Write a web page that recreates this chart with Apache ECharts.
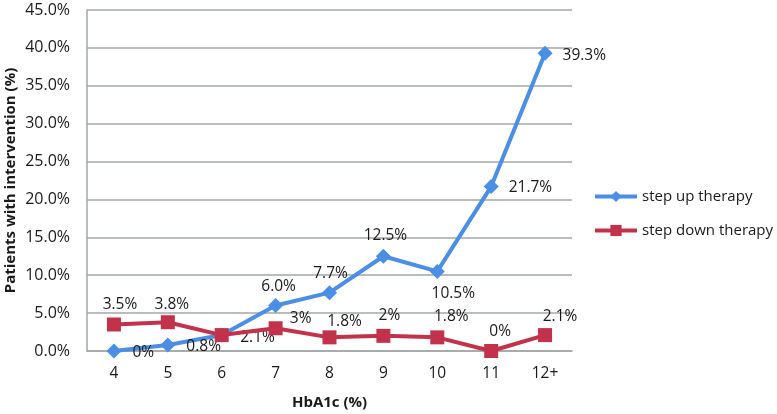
<!DOCTYPE html>
<html><head><meta charset="utf-8">
<script src="https://cdn.jsdelivr.net/npm/echarts@6/dist/echarts.min.js"></script>
<style>html,body{margin:0;padding:0;background:#fff}#c{width:777px;height:414px}</style>
</head><body><div id="c"></div>
<script>
var categories = ['4','5','6','7','8','9','10','11','12+'];
var stepUp = [0, 0.8, 2.1, 6.0, 7.7, 12.5, 10.5, 21.7, 39.3];
var stepDown = [3.5, 3.8, 2.1, 3, 1.8, 2, 1.8, 0, 2.1];
var yTicks = {min: 0, max: 45, interval: 5};

var FONT = 'Open Sans';
var TXT = '#1a1a1a';
var BLUE = '#4a8ee6';
var RED = '#c3324b';
var GRID = '#a3a7a7';
var FS = 15.5;

// label placement (style only)
var upPlace = [['right',[6,2]],['right',[6,2]],['right',[6,2]],['top',[3,2]],['top',[1,1]],['top',[2,0]],['bottom',[16,2]],['right',[5,1]],['right',[5,2]]];
var downPlace = [['top',[6,0]],['top',[4,2]],null,['top',[25,10]],['top',[15,4]],['top',[6,0]],['top',[14,-1]],['top',[9,1]],['top',[15,1]]];

function fmtUp(v){ return v === 0 ? '0%' : v.toFixed(1) + '%'; }
function fmtDown(v){ return v + '%'; }

var upData = stepUp.map(function(v,i){
  var p = upPlace[i];
  return {value: v, label: {show: true, position: p[0], offset: p[1], formatter: fmtUp(v)}};
});
var downData = stepDown.map(function(v,i){
  var p = downPlace[i];
  return p ? {value: v, label: {show: true, position: p[0], offset: p[1], formatter: fmtDown(v)}}
           : {value: v, label: {show: false}};
});

var chart = echarts.init(document.getElementById('c'), null, {renderer: 'canvas'});
chart.setOption({
  animation: false,
  textStyle: {fontFamily: FONT},
  grid: {left: 87, top: 10, right: 205, bottom: 63, containLabel: false, outerBoundsMode: 'none'},
  legend: {
    orient: 'vertical', left: 593, top: 189, padding: 0, itemWidth: 42, itemHeight: 14, itemGap: 19,
    textStyle: {fontFamily: FONT, fontSize: 15, color: TXT},
    lineStyle: {width: 4},
    data: ['step up therapy', 'step down therapy']
  },
  xAxis: {
    type: 'category', data: categories, boundaryGap: true,
    axisLine: {show: true, lineStyle: {color: GRID, width: 1.5}},
    axisTick: {show: false},
    axisLabel: {fontFamily: FONT, fontSize: FS, color: TXT, margin: 15},
    name: 'HbA1c (%)', nameLocation: 'middle', nameGap: 44, nameMoveOverlap: false,
    nameTextStyle: {fontFamily: FONT, fontSize: 15, fontWeight: 'bold', color: TXT}
  },
  yAxis: {
    type: 'value', min: yTicks.min, max: yTicks.max, interval: yTicks.interval,
    axisLine: {show: true, lineStyle: {color: GRID, width: 1.5}},
    axisTick: {show: false},
    splitLine: {show: true, lineStyle: {color: GRID, width: 1.5}},
    axisLabel: {fontFamily: FONT, fontSize: 16, color: TXT, margin: 17,
      formatter: function(v){ return v.toFixed(1) + '%'; }},
    name: 'Patients with intervention (%)', nameLocation: 'middle', nameGap: 69, nameRotate: 90,
    nameMoveOverlap: false,
    nameTextStyle: {fontFamily: FONT, fontSize: 15, fontWeight: 'bold', color: TXT}
  },
  series: [
    {
      name: 'step up therapy', type: 'line', data: upData,
      symbol: 'diamond', symbolSize: 15,
      lineStyle: {color: BLUE, width: 4}, itemStyle: {color: BLUE},
      label: {fontFamily: FONT, fontSize: FS, color: TXT, distance: 5},
      z: 2
    },
    {
      name: 'step down therapy', type: 'line', data: downData,
      symbol: 'rect', symbolSize: 14,
      lineStyle: {color: RED, width: 4}, itemStyle: {color: RED},
      label: {fontFamily: FONT, fontSize: FS, color: TXT, distance: 5},
      z: 3
    }
  ]
});
</script></body></html>
